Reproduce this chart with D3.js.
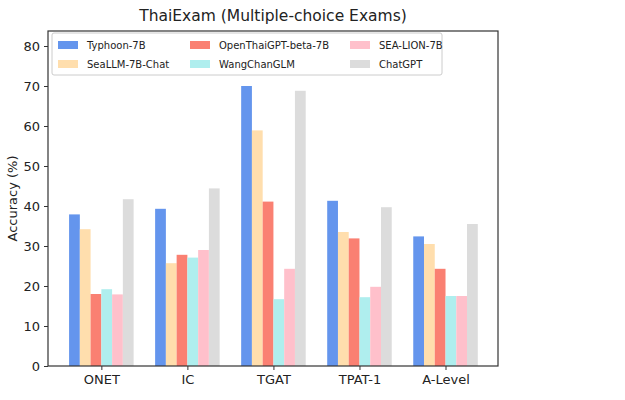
<!DOCTYPE html>
<html>
<head>
<meta charset="utf-8">
<script src="https://cdn.jsdelivr.net/npm/d3@7"></script>
<style>
  body { margin: 0; background: #fff; }
  text { font-family: "DejaVu Sans", sans-serif; fill: #222; }
</style>
</head>
<body>
<script>
// exam categories and model scores (accuracy %)
var exams = ["ONET", "IC", "TGAT", "TPAT-1", "A-Level"];
var models = ["Typhoon-7B", "SeaLLM-7B-Chat", "OpenThaiGPT-beta-7B", "WangChanGLM", "SEA-LION-7B", "ChatGPT"];
var typhoon = [37.9, 39.3, 70.0, 41.3, 32.4];
var seallm = [34.2, 25.7, 58.9, 33.5, 30.5];
var openthai = [18.0, 27.8, 41.1, 31.9, 24.3];
var wangchan = [19.2, 27.1, 16.7, 17.2, 17.5];
var sealion = [17.9, 29.0, 24.3, 19.8, 17.5];
var chatgpt = [41.7, 44.4, 68.8, 39.7, 35.5];
var yTicks = [0, 10, 20, 30, 40, 50, 60, 70, 80];

var series = [typhoon, seallm, openthai, wangchan, sealion, chatgpt];
var colors = ["#6495ED", "#FFDEAD", "#FA8072", "#AFEEEE", "#FFC0CB", "#DCDCDC"];

var width = 625, height = 400;
var margin = {left: 48, right: 127, top: 31, bottom: 34};
var w = width - margin.left - margin.right,
    h = height - margin.top - margin.bottom;

var svg = d3.select("body").append("svg").attr("width", width).attr("height", height);
var g = svg.append("g").attr("transform", "translate(" + margin.left + "," + margin.top + ")");

var x = d3.scaleLinear().domain([-0.62, 4.61]).range([0, w]);
var y = d3.scaleLinear().domain([0, 83.75]).range([h, 0]);
var barW = 0.125;

series.forEach(function(vals, s) {
  g.selectAll(".bar" + s).data(vals).enter().append("rect")
    .attr("x", function(d, i) { return x(i - 0.375 + s * barW); })
    .attr("width", x(barW) - x(0))
    .attr("y", function(d) { return y(d); })
    .attr("height", function(d) { return h - y(d); })
    .attr("fill", colors[s]);
});

var yAxis = d3.axisLeft(y).tickValues(yTicks).tickSize(4).tickPadding(4);
var xAxis = d3.axisBottom(x).tickValues(d3.range(exams.length))
  .tickFormat(function(d) { return exams[d]; }).tickSize(4).tickPadding(5);

g.append("g").attr("class", "axis y").call(yAxis);
g.append("g").attr("class", "axis x").attr("transform", "translate(0," + h + ")").call(xAxis);
g.selectAll(".axis .domain").remove();
g.selectAll(".axis text").style("font-size", "13px").attr("fill", "#222");
g.selectAll(".axis line").attr("stroke", "#333");

g.append("rect").attr("width", w).attr("height", h)
  .attr("fill", "none").attr("stroke", "#333").attr("stroke-width", 1.2);

svg.append("text").attr("x", margin.left + w / 2).attr("y", 21)
  .attr("text-anchor", "middle").style("font-size", "15.5px").text("ThaiExam (Multiple-choice Exams)");

svg.append("text").attr("transform", "translate(17," + (margin.top + h / 2) + ") rotate(-90)")
  .attr("text-anchor", "middle").style("font-size", "13px").text("Accuracy (%)");

// legend
var leg = svg.append("g").attr("transform", "translate(52,33)");
leg.append("rect").attr("width", 390).attr("height", 42).attr("rx", 2)
  .attr("fill", "#fff").attr("fill-opacity", 0.8).attr("stroke", "#ccc");
var colX = [6, 138, 298];
models.forEach(function(m, i) {
  var col = Math.floor(i / 2), row = i % 2;
  var it = leg.append("g").attr("transform", "translate(" + colX[col] + "," + (8 + row * 19) + ")");
  it.append("rect").attr("width", 20).attr("height", 8).attr("y", 0).attr("fill", colors[i]);
  it.append("text").attr("x", 29).attr("y", 8).style("font-size", "10px").text(m);
});
</script>
</body>
</html>
